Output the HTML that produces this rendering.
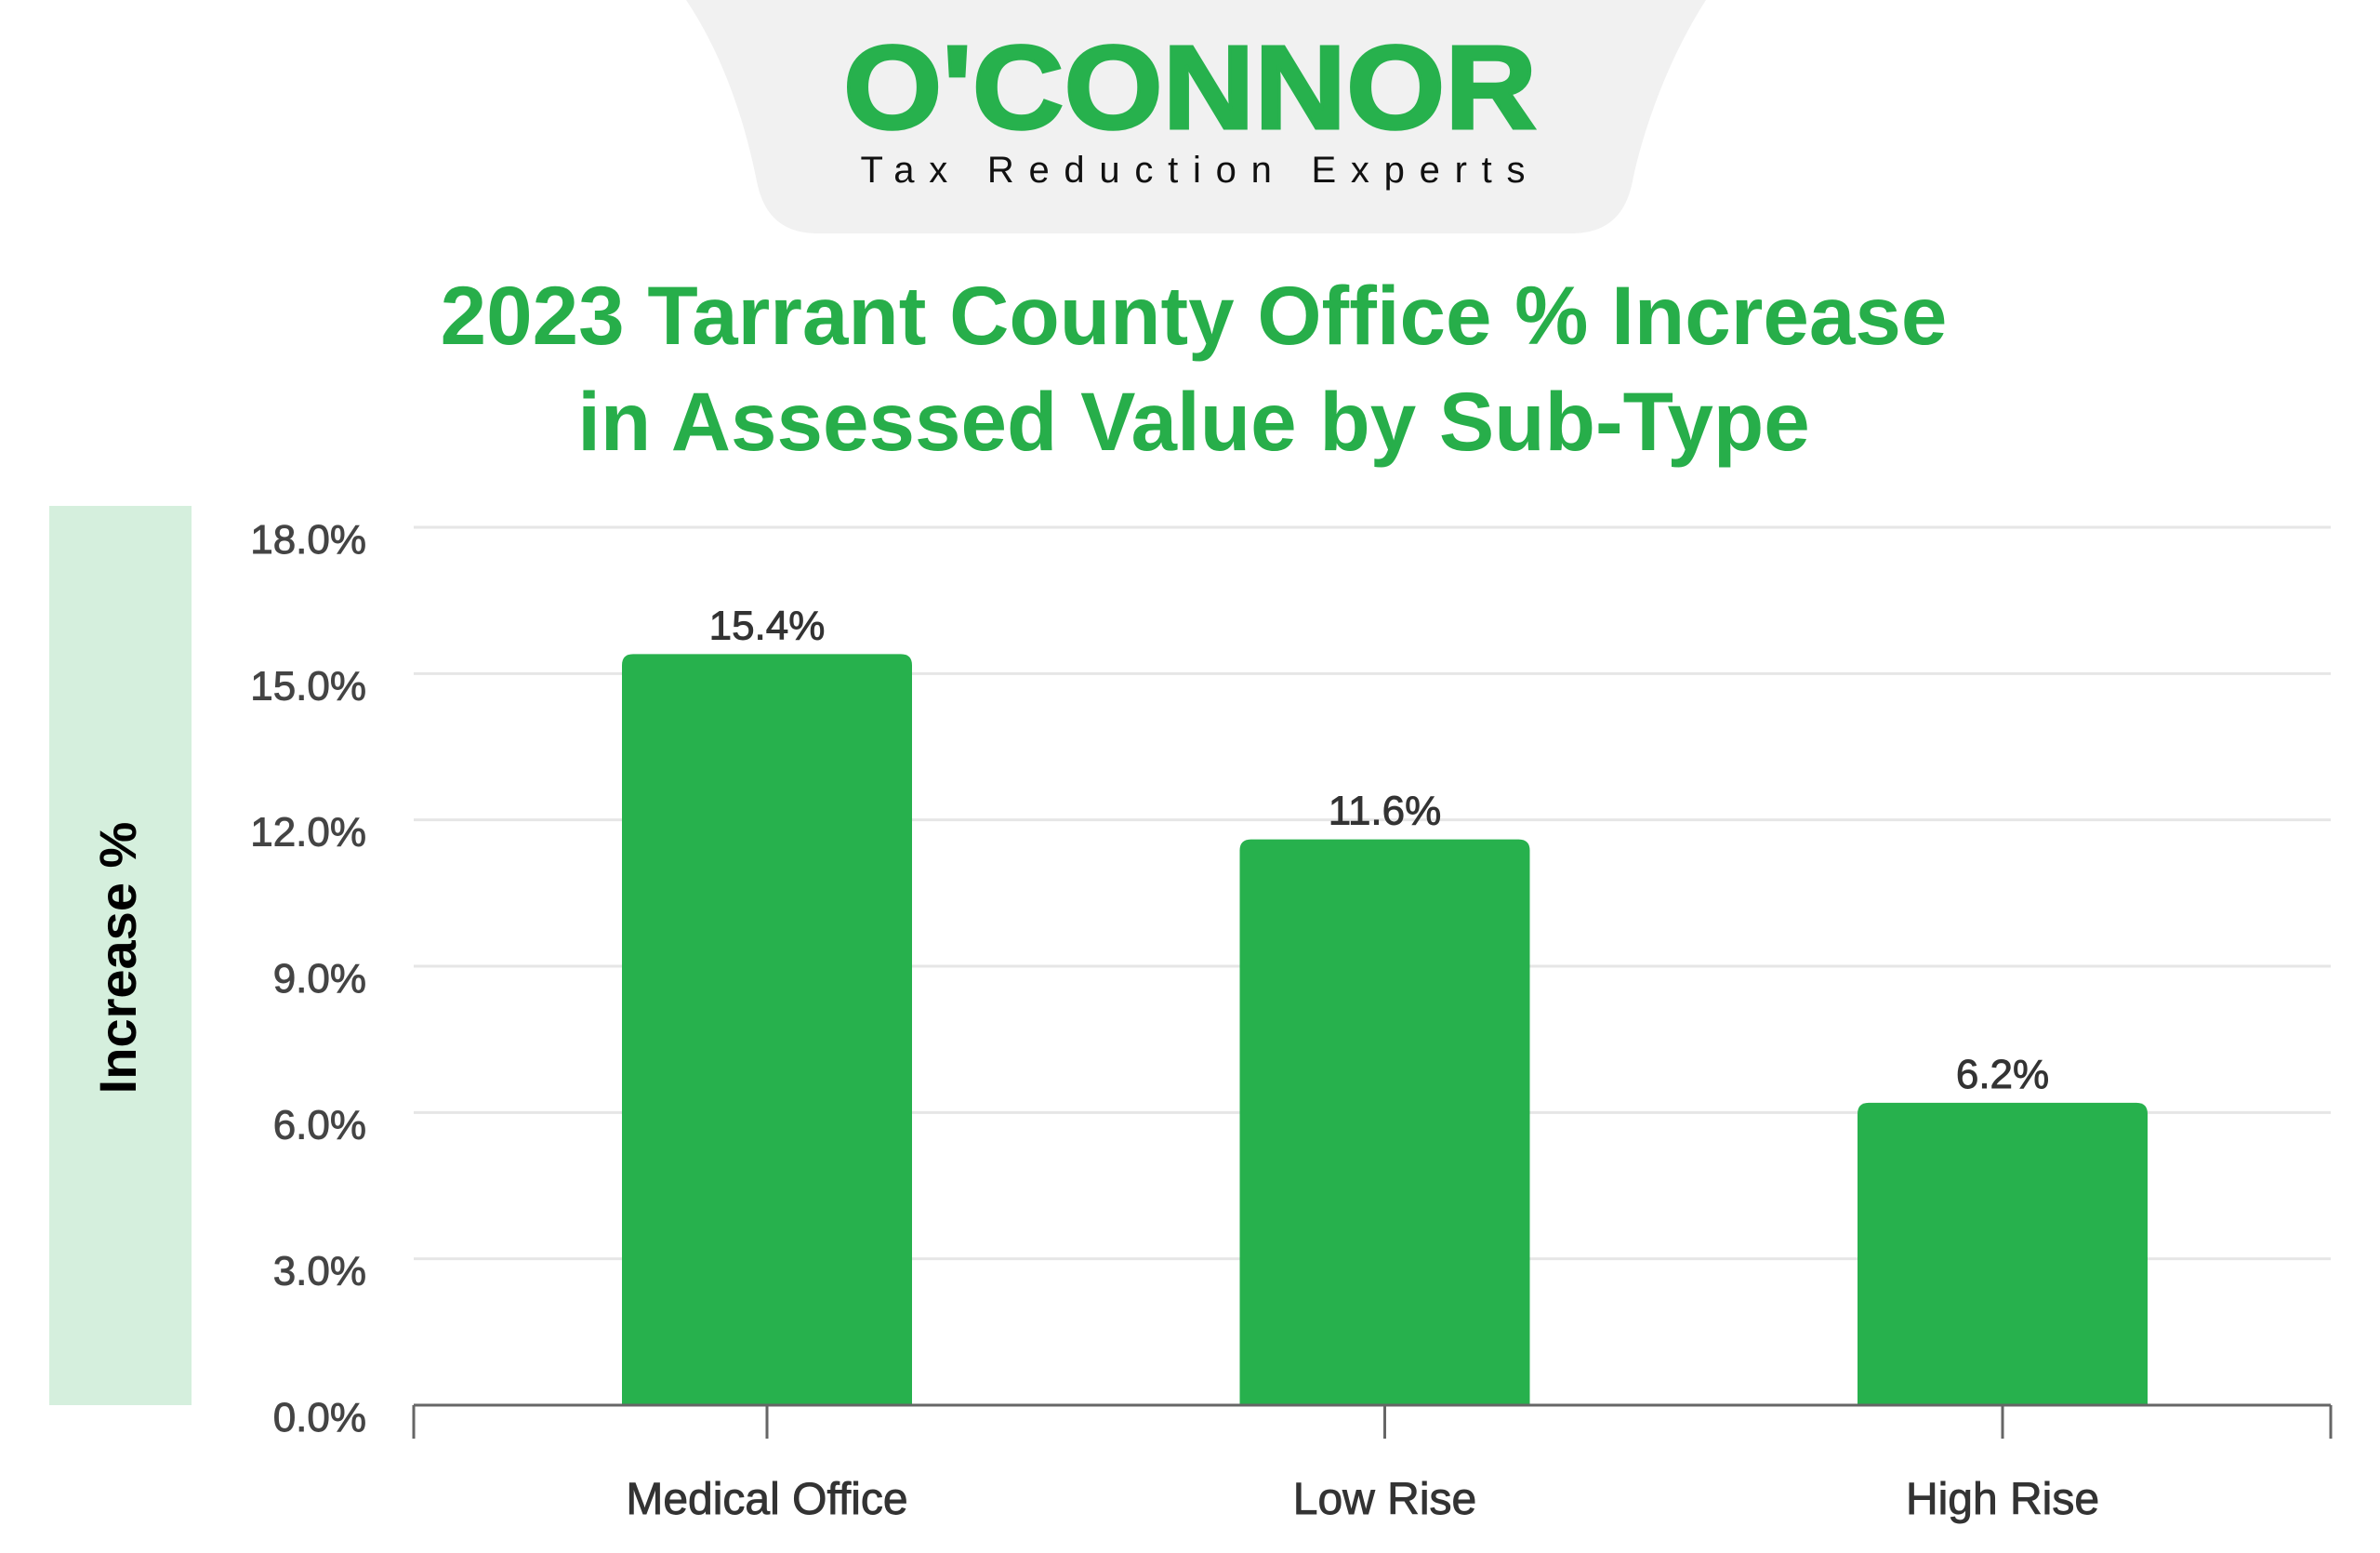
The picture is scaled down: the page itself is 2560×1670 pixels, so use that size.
<!DOCTYPE html>
<html><head><meta charset="utf-8"><style>
html,body{margin:0;padding:0;background:#fff;}
svg{display:block;font-family:"Liberation Sans",Arial,sans-serif;}
</style></head><body>
<svg id="chart" width="2560" height="1670" viewBox="0 0 2560 1670">
  <path d="M738 0 L1835 0 C1790 70 1765 150 1756 195 C1748 235 1725 251 1690 251 L880 251 C845 251 822 235 814 195 C805 150 785 70 738 0 Z" fill="#f1f1f1"/>
  <text x="1280" y="138" text-anchor="middle" font-size="128" font-weight="bold" fill="#27b14d" stroke="#27b14d" stroke-width="3" textLength="746" lengthAdjust="spacingAndGlyphs">O'CONNOR</text>
  <text x="1283" y="196" text-anchor="middle" font-size="40" fill="#111" textLength="715" lengthAdjust="spacing">Tax Reduction Experts</text>
  <text x="1284" y="370" text-anchor="middle" font-size="89" font-weight="bold" fill="#27ae4a">2023 Tarrant County Office % Increase</text>
  <text x="1284" y="484" text-anchor="middle" font-size="89" font-weight="bold" fill="#27ae4a">in Assessed Value by Sub-Type</text>
  <rect x="53" y="544" width="153" height="967" fill="#d5efdd"/>
  <text x="0" y="0" transform="translate(146,1030) rotate(-90)" text-anchor="middle" font-size="56" font-weight="bold" fill="#000">Increase %</text>
  <g id="grid"></g>
  <g id="bars"></g>
  <g id="axis"></g>
</svg>
<script>
const categories = ["Medical Office", "Low Rise", "High Rise"];
const values = [15.4, 11.6, 6.2];
const valueLabels = ["15.4%", "11.6%", "6.2%"];
const yTicks = [0, 3, 6, 9, 12, 15, 18];
const yTickLabels = ["0.0%", "3.0%", "6.0%", "9.0%", "12.0%", "15.0%", "18.0%"];

const NS = "http://www.w3.org/2000/svg";
const y0 = 1511, yTop = 567, yMax = 18;
const xLeft = 445, xRight = 2507;
const firstCenter = 825, step = 664.5, barW = 312;
function yScale(v){ return y0 - (v / yMax) * (y0 - yTop); }
function xScale(i){ return firstCenter + i * step; }
function mk(tag, attrs, parent){ const e = document.createElementNS(NS, tag); for (const k in attrs) e.setAttribute(k, attrs[k]); parent.appendChild(e); return e; }

const grid = document.getElementById("grid");
yTicks.forEach((t, i) => {
  const y = yScale(t);
  if (t > 0) {
    const l = mk("line", {x1: xLeft, x2: xRight, y1: y, y2: y, stroke: "#e6e6e6", "stroke-width": 3}, grid);
    
    
  }
  const tx = mk("text", {x: 394, y: y + 28, "text-anchor": "end", "font-size": 44, fill: "#444", stroke: "#444", "stroke-width": 0.9}, grid);
  tx.textContent = yTickLabels[i];
  
  
});

const bars = document.getElementById("bars");
values.forEach((v, i) => {
  const cx = xScale(i), top = yScale(v);
  const r = 12;
  const p = mk("path", {d: `M${cx-barW/2} ${y0} L${cx-barW/2} ${top+r} Q${cx-barW/2} ${top} ${cx-barW/2+r} ${top} L${cx+barW/2-r} ${top} Q${cx+barW/2} ${top} ${cx+barW/2} ${top+r} L${cx+barW/2} ${y0} Z`, fill: "#27b14d"}, bars);
  
  
  const lb = mk("text", {x: cx, y: top - 16, "text-anchor": "middle", "font-size": 44, fill: "#333", stroke: "#333", "stroke-width": 0.9}, bars);
  lb.textContent = valueLabels[i];
  
  
});

const axis = document.getElementById("axis");
const base = mk("line", {x1: xLeft, x2: xRight, y1: y0, y2: y0, stroke: "#666", "stroke-width": 3}, axis);


[xLeft, xRight].forEach(x => {
  const t = mk("line", {x1: x, x2: x, y1: y0, y2: y0 + 36, stroke: "#666", "stroke-width": 3}, axis);
  
  
});
categories.forEach((c, i) => {
  const x = xScale(i);
  const t = mk("line", {x1: x, x2: x, y1: y0, y2: y0 + 36, stroke: "#666", "stroke-width": 3}, axis);
  
  
  const lb = mk("text", {x: x, y: 1628, "text-anchor": "middle", "font-size": 48, fill: "#333", stroke: "#333", "stroke-width": 0.9}, axis);
  lb.textContent = c;
  
  
});
</script>
</body></html>
